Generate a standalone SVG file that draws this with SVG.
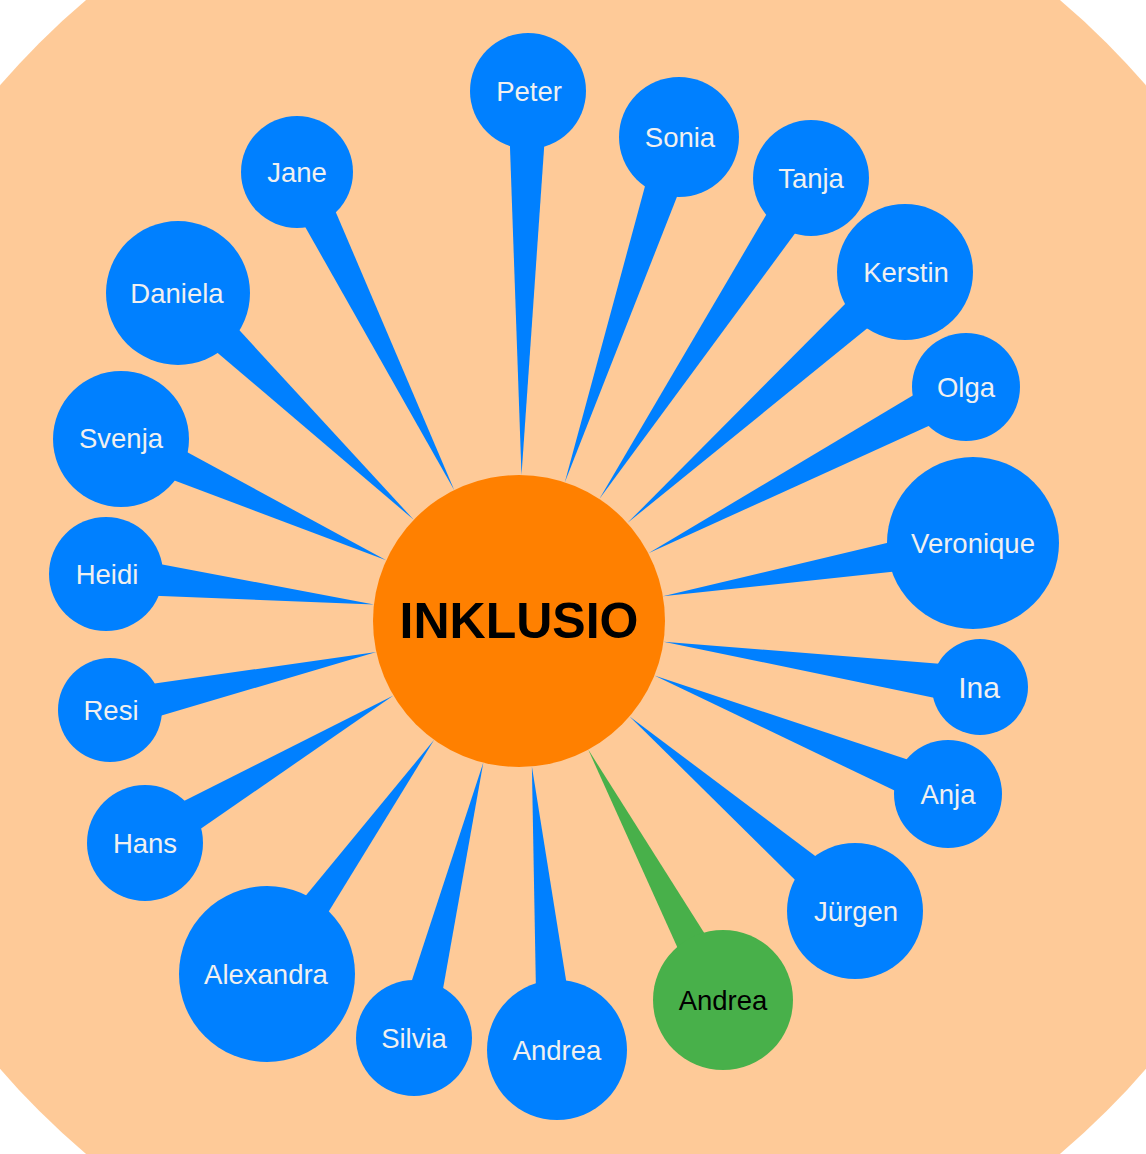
<svg xmlns="http://www.w3.org/2000/svg" width="1146" height="1154" viewBox="0 0 1146 1154">
<style>
.bg{fill:#FECA98}
.hub{fill:#FF8000}
.node{fill:#0080FF}
.green{fill:#48B04A}
.wedge{fill:#0080FF}
.wedge.g{fill:#48B04A}
text{font-family:"Liberation Sans",Arial,Helvetica,sans-serif;text-anchor:middle}
.lbl{font-size:27.5px;fill:#F0F0F0}
.lbl.dark{fill:#000}
.hubtxt{font-size:50px;font-weight:bold;fill:#000}
</style>
<circle class="bg" cx="573" cy="577" r="755"/>
<g id="connectors">
<polygon class="wedge" points="0,-20 0,20 384.1,0" transform="translate(528,91) rotate(90.97)"/>
<polygon class="wedge" points="0,-20 0,20 363.8,0" transform="translate(679,137) rotate(108.30)"/>
<polygon class="wedge" points="0,-20 0,20 384.6,0" transform="translate(811,178) rotate(123.39)"/>
<polygon class="wedge" points="0,-20 0,20 374.4,0" transform="translate(905,272) rotate(137.88)"/>
<polygon class="wedge" points="0,-20 0,20 358.5,0" transform="translate(966,387) rotate(152.37)"/>
<polygon class="wedge" points="0,-20 0,20 314.7,0" transform="translate(973,543) rotate(170.25)"/>
<polygon class="wedge" points="0,-20 0,20 319.7,0" transform="translate(980,687) rotate(188.15)"/>
<polygon class="wedge" points="0,-20 0,20 316.6,0" transform="translate(948,794) rotate(201.96)"/>
<polygon class="wedge" points="0,-20 0,20 297.8,0" transform="translate(855,911) rotate(220.80)"/>
<polygon class="wedge g" points="0,-20 0,20 284.4,0" transform="translate(723,1000) rotate(241.71)"/>
<polygon class="wedge" points="0,-20 0,20 284.7,0" transform="translate(557,1050) rotate(264.94)"/>
<polygon class="wedge" points="0,-20 0,20 284.0,0" transform="translate(414,1038) rotate(-75.87)"/>
<polygon class="wedge" points="0,-20 0,20 287.7,0" transform="translate(267,974) rotate(-54.48)"/>
<polygon class="wedge" points="0,-20 0,20 288.9,0" transform="translate(145,843) rotate(-30.69)"/>
<polygon class="wedge" points="0,-20 0,20 272.6,0" transform="translate(110,710) rotate(-12.28)"/>
<polygon class="wedge" points="0,-20 0,20 269.7,0" transform="translate(106,574) rotate(6.49)"/>
<polygon class="wedge" points="0,-20 0,20 291.6,0" transform="translate(121,439) rotate(24.57)"/>
<polygon class="wedge" points="0,-20 0,20 327.1,0" transform="translate(178,293) rotate(43.89)"/>
<polygon class="wedge" points="0,-20 0,20 354.9,0" transform="translate(297,172) rotate(63.69)"/>
</g>
<g id="inklusio"><circle class="hub" cx="519" cy="621" r="146"/><text class="hubtxt" x="519" y="638">INKLUSIO</text></g>
<g id="peter"><circle class="node" cx="528" cy="91" r="58"/><text class="lbl" x="529" y="101">Peter</text></g>
<g id="sonia"><circle class="node" cx="679" cy="137" r="60"/><text class="lbl" x="680" y="147">Sonia</text></g>
<g id="tanja"><circle class="node" cx="811" cy="178" r="58"/><text class="lbl" x="811" y="188">Tanja</text></g>
<g id="kerstin"><circle class="node" cx="905" cy="272" r="68"/><text class="lbl" x="906" y="282">Kerstin</text></g>
<g id="olga"><circle class="node" cx="966" cy="387" r="54"/><text class="lbl" x="966" y="397">Olga</text></g>
<g id="veronique"><circle class="node" cx="973" cy="543" r="86"/><text class="lbl" x="973" y="553">Veronique</text></g>
<g id="ina"><circle class="node" cx="980" cy="687" r="48"/><text class="lbl" x="979" y="698" style="font-size:30px">Ina</text></g>
<g id="anja"><circle class="node" cx="948" cy="794" r="54"/><text class="lbl" x="948" y="804">Anja</text></g>
<g id="juergen"><circle class="node" cx="855" cy="911" r="68"/><text class="lbl" x="856" y="921">Jürgen</text></g>
<g id="andrea-green"><circle class="green" cx="723" cy="1000" r="70"/><text class="lbl dark" x="723" y="1010">Andrea</text></g>
<g id="andrea"><circle class="node" cx="557" cy="1050" r="70"/><text class="lbl" x="557" y="1060">Andrea</text></g>
<g id="silvia"><circle class="node" cx="414" cy="1038" r="58"/><text class="lbl" x="414" y="1048">Silvia</text></g>
<g id="alexandra"><circle class="node" cx="267" cy="974" r="88"/><text class="lbl" x="266" y="984">Alexandra</text></g>
<g id="hans"><circle class="node" cx="145" cy="843" r="58"/><text class="lbl" x="145" y="853">Hans</text></g>
<g id="resi"><circle class="node" cx="110" cy="710" r="52"/><text class="lbl" x="111" y="720">Resi</text></g>
<g id="heidi"><circle class="node" cx="106" cy="574" r="57"/><text class="lbl" x="107" y="584">Heidi</text></g>
<g id="svenja"><circle class="node" cx="121" cy="439" r="68"/><text class="lbl" x="121" y="448">Svenja</text></g>
<g id="daniela"><circle class="node" cx="178" cy="293" r="72"/><text class="lbl" x="177" y="303">Daniela</text></g>
<g id="jane"><circle class="node" cx="297" cy="172" r="56"/><text class="lbl" x="297" y="182">Jane</text></g>
</svg>
